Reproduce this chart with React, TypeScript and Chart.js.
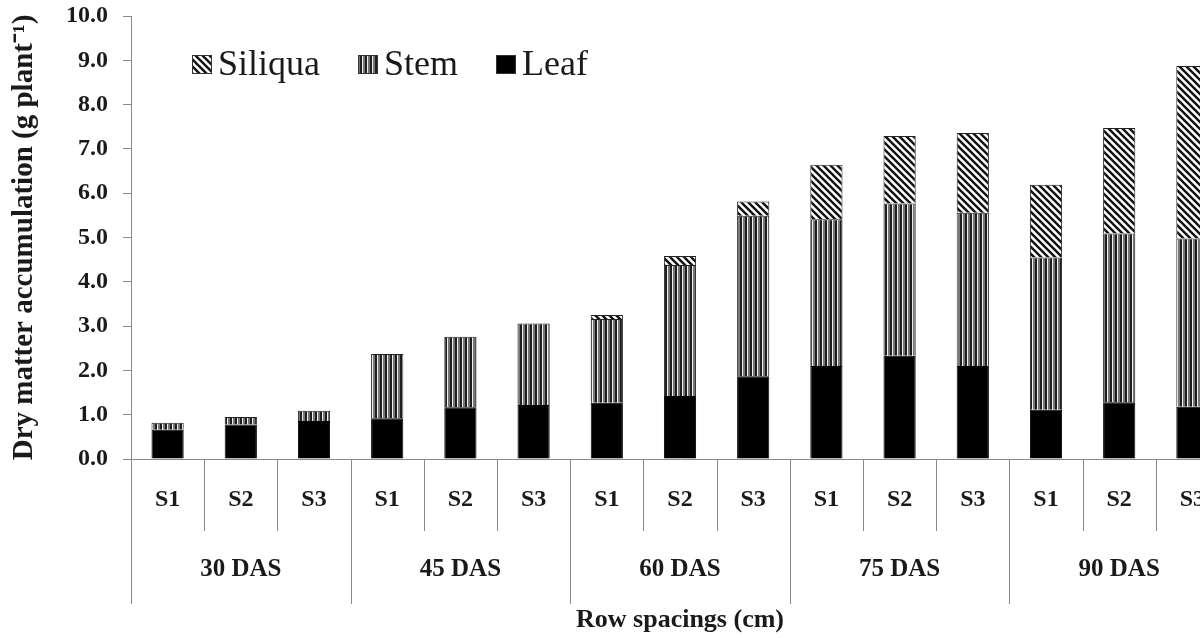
import React, { useEffect, useRef } from 'react';
import { Chart, registerables } from 'chart.js';

Chart.register(...registerables);

const subLabels = ['S1', 'S2', 'S3', 'S1', 'S2', 'S3', 'S1', 'S2', 'S3', 'S1', 'S2', 'S3', 'S1', 'S2', 'S3'];
const groupLabels = ['30 DAS', '45 DAS', '60 DAS', '75 DAS', '90 DAS'];
const leafValues = [0.66, 0.78, 0.86, 0.92, 1.17, 1.22, 1.27, 1.42, 1.87, 2.1, 2.33, 2.1, 1.11, 1.28, 1.18];
const stemValues = [0.16, 0.17, 0.23, 1.45, 1.59, 1.84, 1.89, 2.96, 3.62, 3.31, 3.44, 3.46, 3.44, 3.81, 3.8];
const siliquaValues = [0, 0, 0, 0, 0, 0, 0.09, 0.2, 0.32, 1.23, 1.52, 1.8, 1.64, 2.38, 3.89];
const yMin = 0;
const yMax = 10;
const yStep = 1;
const legendOrder = ['Siliqua', 'Stem', 'Leaf'];

const SERIF = "'Liberation Serif', 'Times New Roman', serif";
const TEXT = '#1a1a1a';
const LINE = '#8a8a8a';

function makeStemPattern(): CanvasPattern | string {
  const c = document.createElement('canvas');
  c.width = 5;
  c.height = 4;
  const g = c.getContext('2d');
  if (!g) return '#777';
  g.fillStyle = '#f0f0f0';
  g.fillRect(0, 0, 5, 4);
  g.fillStyle = '#1e1e1e';
  g.fillRect(0, 0, 2, 4);
  g.fillStyle = '#777777';
  g.fillRect(3, 0, 2, 4);
  return g.createPattern(c, 'repeat') || '#777';
}

function makeSiliquaPattern(): CanvasPattern | string {
  const s = 7;
  const c = document.createElement('canvas');
  c.width = s;
  c.height = s;
  const g = c.getContext('2d');
  if (!g) return '#aaa';
  g.fillStyle = '#ffffff';
  g.fillRect(0, 0, s, s);
  g.strokeStyle = '#111111';
  g.lineWidth = 2.4;
  for (let k = -1; k <= 1; k++) {
    g.beginPath();
    g.moveTo(-1, -1 + k * s);
    g.lineTo(s + 1, s + 1 + k * s);
    g.stroke();
  }
  return g.createPattern(c, 'repeat') || '#aaa';
}

export default function App() {
  const canvasRef = useRef<HTMLCanvasElement | null>(null);

  useEffect(() => {
    const canvas = canvasRef.current;
    if (!canvas) return;
    const stemFill = makeStemPattern();
    const siliquaFill = makeSiliquaPattern();
    const fills: Record<string, CanvasPattern | string> = {
      Siliqua: siliquaFill,
      Stem: stemFill,
      Leaf: '#000000',
    };

    const decorPlugin = {
      id: 'decor',
      afterDraw(chart: any) {
        const ctx = chart.ctx as CanvasRenderingContext2D;
        const xs = chart.scales.x;
        const half = (xs.getPixelForValue(1) - xs.getPixelForValue(0)) / 2;
        ctx.save();
        ctx.strokeStyle = LINE;
        ctx.lineWidth = 1;
        for (let i = 0; i <= subLabels.length; i++) {
          const x = Math.round(xs.getPixelForValue(i) - half) + 0.5;
          const len = i % 3 === 0 ? 145 : 72;
          ctx.beginPath();
          ctx.moveTo(x, xs.top);
          ctx.lineTo(x, xs.top + len);
          ctx.stroke();
        }
        ctx.fillStyle = TEXT;
        ctx.font = `bold 25px ${SERIF}`;
        ctx.textAlign = 'center';
        ctx.textBaseline = 'middle';
        groupLabels.forEach((g, gi) => {
          const x = (xs.getPixelForValue(gi * 3) + xs.getPixelForValue(gi * 3 + 2)) / 2;
          ctx.fillText(g, x, 570);
        });
        ctx.font = `36px ${SERIF}`;
        ctx.textAlign = 'left';
        ctx.textBaseline = 'middle';
        let lx = 192;
        const ly = 64;
        legendOrder.forEach((name) => {
          ctx.fillStyle = fills[name] as any;
          ctx.fillRect(lx, ly - 9, 20, 19);
          ctx.strokeStyle = '#333';
          ctx.lineWidth = 1;
          ctx.strokeRect(lx + 0.5, ly - 8.5, 19, 18);
          ctx.fillStyle = TEXT;
          const tx = lx + 26;
          ctx.fillText(name, tx, ly + 2);
          lx = tx + ctx.measureText(name).width + 38;
        });
        ctx.restore();
      },
    };

    const chart = new Chart(canvas, {
      type: 'bar',
      data: {
        labels: subLabels,
        datasets: [
          {
            label: 'Leaf',
            data: leafValues,
            backgroundColor: '#000000',
            borderColor: '#000000',
            borderWidth: 1,
            barPercentage: 0.44,
            categoryPercentage: 1,
          },
          {
            label: 'Stem',
            data: stemValues,
            backgroundColor: stemFill as any,
            borderColor: '#222222',
            borderWidth: 1,
            barPercentage: 0.44,
            categoryPercentage: 1,
          },
          {
            label: 'Siliqua',
            data: siliquaValues,
            backgroundColor: siliquaFill as any,
            borderColor: '#222222',
            borderWidth: 1,
            barPercentage: 0.44,
            categoryPercentage: 1,
          },
        ],
      },
      options: {
        animation: false,
        responsive: true,
        maintainAspectRatio: false,
        layout: { padding: { top: 16, right: 11, left: 0, bottom: 0 } },
        plugins: {
          legend: { display: false },
          tooltip: { enabled: false },
        },
        scales: {
          x: {
            stacked: true,
            afterFit: (s: any) => {
              s.height = 179;
            },
            grid: { display: false, drawTicks: false },
            border: { display: true, color: LINE, width: 1 },
            ticks: {
              color: TEXT,
              font: { family: SERIF, size: 24, weight: 'bold' },
              padding: 26,
              maxRotation: 0,
              autoSkip: false,
            },
            title: {
              display: true,
              text: 'Row spacings (cm)',
              color: TEXT,
              font: { family: SERIF, size: 26, weight: 'bold' },
              padding: { top: 0, bottom: 2 },
            },
          },
          y: {
            stacked: true,
            min: yMin,
            max: yMax,
            afterFit: (s: any) => {
              s.width = 131;
              s.paddingTop = 10;
              s.paddingBottom = 0;
            },
            grid: { display: true, drawOnChartArea: false, drawTicks: true, tickLength: 8, color: LINE },
            border: { display: true, color: LINE, width: 1 },
            ticks: {
              stepSize: yStep,
              color: TEXT,
              font: { family: SERIF, size: 24, weight: 'bold' },
              padding: 15,
              callback: (v: any) => Number(v).toFixed(1),
            },
            title: {
              display: true,
              text: 'Dry matter accumulation (g plant\u207B\u00B9)',
              color: TEXT,
              font: { family: SERIF, size: 29, weight: 'bold' },
              padding: { top: 7, bottom: 0 },
            },
          },
        },
      },
      plugins: [decorPlugin],
    });

    return () => {
      chart.destroy();
    };
  }, []);

  return (
    <div
      style={{
        position: 'fixed',
        left: 0,
        top: 0,
        width: 1200,
        height: 638,
        overflow: 'hidden',
        background: '#ffffff',
      }}
    >
      <div style={{ position: 'relative', width: 1240, height: 638 }}>
        <canvas ref={canvasRef} />
      </div>
    </div>
  );
}
